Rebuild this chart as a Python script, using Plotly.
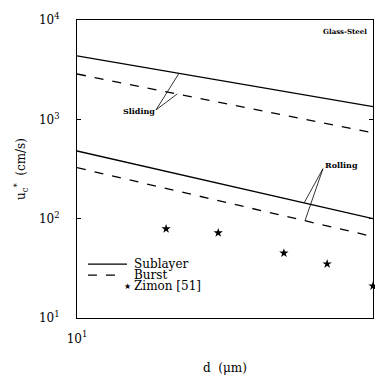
import plotly.graph_objects as go
import numpy as np

# Data
d_line = [10, 100]
sliding_sublayer = [4350, 1340]
sliding_burst = [2860, 730]
rolling_sublayer = [480, 100]
rolling_burst = [326, 66]
zimon_d = [20, 30, 50, 70, 100]
zimon_u = [79, 72, 45, 35, 21]

x_tickvals = [10, 100]
x_ticktext = ["10<sup>1</sup>", "10<sup>2</sup>"]
y_tickvals = [10, 100, 1000, 10000]
y_ticktext = ["10<sup>1</sup>", "10<sup>2</sup>", "10<sup>3</sup>", "10<sup>4</sup>"]

FONT = "DejaVu Serif"
LW = 1.3


def interp_val(xv, xs, ys):
    return float(10 ** np.interp(np.log10(xv), np.log10(xs), np.log10(ys)))


fig = go.Figure()
fig.add_trace(go.Scatter(x=d_line, y=sliding_sublayer, mode="lines", name="Sublayer",
                         line=dict(color="black", width=LW)))
fig.add_trace(go.Scatter(x=d_line, y=sliding_burst, mode="lines", name="Burst",
                         line=dict(color="black", width=LW, dash="dash")))
fig.add_trace(go.Scatter(x=d_line, y=rolling_sublayer, mode="lines", name="Sublayer (rolling)",
                         line=dict(color="black", width=LW)))
fig.add_trace(go.Scatter(x=d_line, y=rolling_burst, mode="lines", name="Burst (rolling)",
                         line=dict(color="black", width=LW, dash="dash")))
fig.add_trace(go.Scatter(x=zimon_d, y=zimon_u, mode="markers", name="Zimon [51]",
                         marker=dict(symbol="star", size=7, color="black"), cliponaxis=False))

# Leader lines (label callouts)
sl_tail = (10 ** 1.267, 10 ** 3.095)
for series, xt in ((sliding_sublayer, 22.1), (sliding_burst, 21.8)):
    fig.add_trace(go.Scatter(x=[sl_tail[0], xt], y=[sl_tail[1], interp_val(xt, d_line, series)],
                             mode="lines", line=dict(color="black", width=0.8),
                             hoverinfo="skip", showlegend=False))
ro_tail = (10 ** 1.831, 10 ** 2.503)
for series, xt in ((rolling_sublayer, 58.5), (rolling_burst, 58.9)):
    fig.add_trace(go.Scatter(x=[ro_tail[0], xt], y=[ro_tail[1], interp_val(xt, d_line, series)],
                             mode="lines", line=dict(color="black", width=0.8),
                             hoverinfo="skip", showlegend=False))

ann = [
    dict(x=1.21, y=3.085, xref="x", yref="y", text="<b>Sliding</b>", showarrow=False,
         font=dict(family=FONT, size=8, color="black")),
    dict(x=1.893, y=2.545, xref="x", yref="y", text="<b>Rolling</b>", showarrow=False,
         font=dict(family=FONT, size=8, color="black")),
    dict(x=1.905, y=3.88, xref="x", yref="y", text="<b>Glass-Steel</b>", showarrow=False,
         font=dict(family=FONT, size=7, color="black")),
]

# Manual compact legend
leg_x0, leg_x1, leg_tx = 0.037, 0.169, 0.186
leg_rows = [("Sublayer", 0.181, "solid"), ("Burst", 0.144, "dash"), ("Zimon [51]", 0.107, None)]
shapes = []
for label, yy, dash in leg_rows:
    if dash is not None:
        shapes.append(dict(type="line", xref="paper", yref="paper", x0=leg_x0,
                           x1=leg_x1 if dash == "solid" else leg_x1 - 0.02,
                           y0=yy, y1=yy, line=dict(color="black", width=LW, dash=dash)))
    else:
        ann.append(dict(x=leg_x1 - 0.016, y=yy, xref="paper", yref="paper", text="★",
                        yanchor="middle", showarrow=False,
                        font=dict(family="DejaVu Sans", size=8, color="black")))
    ann.append(dict(x=leg_tx, y=yy, xref="paper", yref="paper", text=label, xanchor="left",
                    yanchor="middle", showarrow=False,
                    font=dict(family=FONT, size=12, color="black")))

# page body adds an 8px offset, so the figure is sized to the visible area
fig.update_layout(
    width=375, height=368,
    margin=dict(l=69, r=10, t=12, b=58, autoexpand=False),
    paper_bgcolor="white", plot_bgcolor="white",
    font=dict(family=FONT, size=12, color="black"),
    showlegend=False,
    annotations=ann,
    shapes=shapes,
)
fig.update_xaxes(type="log", range=[1, 2], tickvals=x_tickvals, ticktext=x_ticktext,
                 showline=True, linecolor="black", linewidth=1.2, mirror=True,
                 ticks="", showgrid=False, zeroline=False, automargin=False,
                 ticklabelstandoff=9,
                 title=dict(text="d  (μm)", font=dict(family=FONT, size=12), standoff=19),
                 tickfont=dict(family=FONT, size=12))
fig.update_yaxes(type="log", range=[1, 4], tickvals=y_tickvals, ticktext=y_ticktext,
                 showline=True, linecolor="black", linewidth=1.2, mirror="ticks",
                 ticks="inside", ticklen=4, tickcolor="black", showgrid=False, zeroline=False,
                 automargin=False, ticklabelstandoff=14,
                 title=dict(text="u<sub>c</sub><sup>*</sup>  (cm/s)", font=dict(family=FONT, size=12),
                            standoff=10),
                 tickfont=dict(family=FONT, size=12))

fig.write_html("out.html")
